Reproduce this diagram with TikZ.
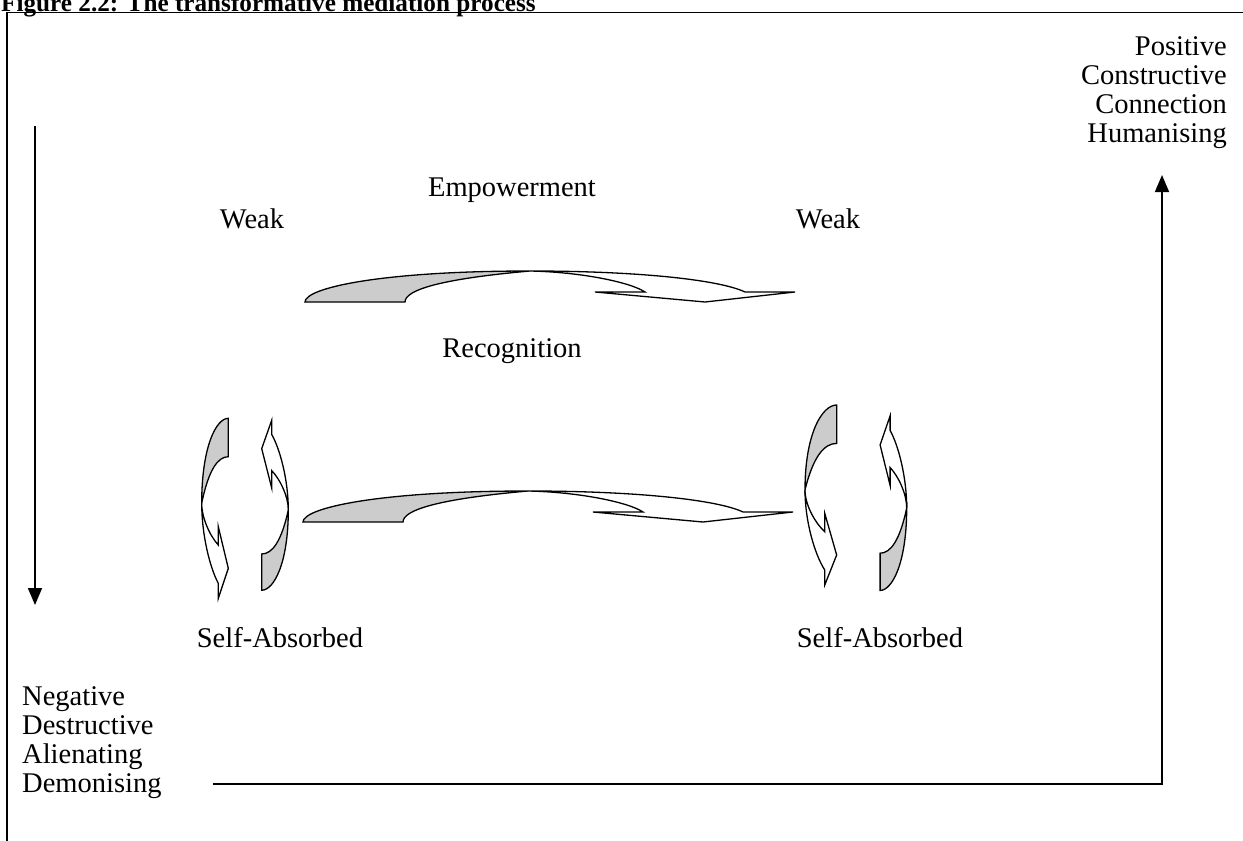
\documentclass[tikz,border=0pt]{standalone}
\usepackage{fontspec}
\setmainfont{Liberation Serif}
\usetikzlibrary{arrows.meta}
\definecolor{ribgray}{RGB}{204,204,204}
\newcommand{\ribbonH}{%
  \filldraw[ribbon, fill=ribgray] (305,302) .. controls (305,288) and (380,271) .. (530,271)
     .. controls (440,279) and (405,290) .. (405,302) -- cycle;
  \filldraw[ribbon, fill=white] (530,271) .. controls (640,271) and (720,280) .. (745,292)
     -- (795,292) -- (705,302) -- (595,292) -- (645,292)
     .. controls (630,282) and (580,272) .. (530,271) -- cycle;
}
\newcommand{\ribbonV}{%
  \filldraw[ribbon, fill=ribgray] (26.6,-85) .. controls (14.6,-85) and (0,-56.9) .. (0,0)
     .. controls (6.9,-33.6) and (16.2,-46.6) .. (26.6,-46.6) -- cycle;
  \filldraw[ribbon, fill=white] (0,0) .. controls (0,31.7) and (8.3,64.7) .. (16.6,80)
     -- (16.6,95) -- (26.6,65) -- (16.6,23.4) -- (16.6,41.7)
     .. controls (8.3,32.7) and (0,14.7) .. (0,0) -- cycle;
}
\begin{document}
\begin{tikzpicture}[x=1pt,y=-1pt,
  lbl/.style={inner sep=0pt, font=\fontsize{28.5}{30}\selectfont, anchor=base},
  ttl/.style={inner sep=0pt, font=\fontsize{25.2}{28}\selectfont\bfseries, anchor=base west},
  frameline/.style={line width=1.6pt},
  axis/.style={line width=1.6pt, -{Triangle[length=17pt,width=14pt]}},
  ribbon/.style={line width=1.3pt}]
\useasboundingbox (0,0) rectangle (1243,841);
% frame
\coordinate (fbl) at (7,841);
\coordinate (ftl) at (7,12.5);
\coordinate (ftr) at (1243,12.5);
\draw[frameline] (fbl) -- (ftl) -- (ftr);
\node[ttl] (title) at (1,11) {Figure 2.2: The transformative mediation process};
% axes
\coordinate (dtop) at (35,126);
\coordinate (dbot) at (35,605);
\draw[axis] (dtop) -- (dbot);
\coordinate (hl) at (213,784);
\coordinate (corner) at (1162,784);
\coordinate (utop) at (1162,175);
\draw[axis] (hl) -- (corner) -- (utop);
% ribbons
\ribbonH
\begin{scope}[shift={(-2,220)}]\ribbonH\end{scope}
\begin{scope}[shift={(201.7,503.3)}]\ribbonV\end{scope}
\begin{scope}[shift={(288.3,510)},rotate=180,yscale=0.944]\ribbonV\end{scope}
\begin{scope}[shift={(805,490)},xscale=1.19]\ribbonV\end{scope}
\begin{scope}[shift={(906.7,508)},rotate=180,yscale=0.97]\ribbonV\end{scope}
% labels
\node[lbl] (emp) at (512,196) {Empowerment};
\node[lbl] (weakL) at (252,228) {Weak};
\node[lbl] (weakR) at (828,228) {Weak};
\node[lbl] (rec) at (512,357) {Recognition};
\node[lbl] (saL) at (280,647) {Self-Absorbed};
\node[lbl] (saR) at (880,647) {Self-Absorbed};
\node[lbl, anchor=base east] (pos) at (1227,55) {Positive};
\node[lbl, anchor=base east] (con) at (1227,84) {Constructive};
\node[lbl, anchor=base east] (cnx) at (1227,113) {Connection};
\node[lbl, anchor=base east] (hum) at (1227,142) {Humanising};
\node[lbl, anchor=base west] (neg) at (22,705) {Negative};
\node[lbl, anchor=base west] (des) at (22,734) {Destructive};
\node[lbl, anchor=base west] (ali) at (22,763) {Alienating};
\node[lbl, anchor=base west] (dem) at (22,792) {Demonising};
\end{tikzpicture}
\end{document}
